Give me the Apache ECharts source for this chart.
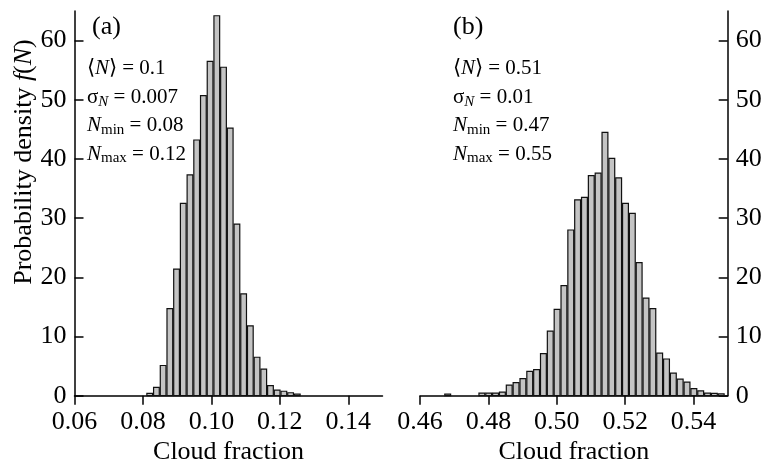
<!DOCTYPE html>
<html>
<head>
<meta charset="utf-8">
<script src="https://cdn.jsdelivr.net/npm/echarts@6/dist/echarts.min.js"></script>
<style>
  html, body { margin: 0; padding: 0; background: #fff; }
  #chart { width: 762px; height: 464px; }
</style>
</head>
<body>
<div id="chart"></div>
<script>
// Panel (a): cloud-fraction histogram, bins of equal width starting at binStartA
const binStartA = 0.081;
const binWidthA = 0.00196;
const densityA = [0.4, 1.4, 5.1, 14.7, 21.4, 32.5, 37.3, 43.2, 50.7, 56.5, 64.2, 55.5,
                  45.2, 29.0, 17.2, 11.8, 6.5, 4.5, 1.7, 0.95, 0.75, 0.5, 0.25];

// Panel (b)
const binStartB = 0.4671;
const binWidthB = 0.002;
const densityB = [0.25, 0, 0, 0, 0, 0.45, 0.45, 0.45, 0.6, 1.8, 2.2, 2.9, 4.1, 4.4, 7.1,
                  10.9, 14.6, 18.6, 28.0, 33.1, 33.5, 37.2, 37.6, 44.5, 40.1, 36.8, 32.5,
                  30.8, 22.5, 16.5, 14.7, 7.2, 6.2, 3.8, 2.8, 2.3, 1.2, 0.8, 0.45, 0.4, 0.3];

// Axis ticks
const xTicksA = [0.06, 0.08, 0.10, 0.12, 0.14];
const xTicksB = [0.46, 0.48, 0.50, 0.52, 0.54];
const yTicks = [0, 10, 20, 30, 40, 50, 60];

// Summary statistics printed in each panel
const panelTags = ['(a)', '(b)'];
const statsA = { mean: '0.1', sigma: '0.007', min: '0.08', max: '0.12' };
const statsB = { mean: '0.51', sigma: '0.01', min: '0.47', max: '0.55' };

const SERIF = 'Liberation Serif, Times New Roman, serif';

function histRows(start, width, values) {
  return values.map((v, i) => [start + i * width, start + (i + 1) * width, v]);
}

function renderBar(params, api) {
  const v = api.value(2);
  if (!v) return null;
  const topLeft = api.coord([api.value(0), v]);
  const baseRight = api.coord([api.value(1), 0]);
  return {
    type: 'rect',
    shape: {
      x: topLeft[0] + 0.5,
      y: topLeft[1],
      width: baseRight[0] - topLeft[0] - 1,
      height: baseRight[1] - topLeft[1]
    },
    style: { fill: '#c4c4c4', stroke: '#111', lineWidth: 1.2 }
  };
}

const lineStyle = { color: '#000', width: 1.5 };
const labelFont = { fontFamily: SERIF, fontSize: 26, color: '#000' };

function xAxisFor(grid, min, max, ticks) {
  return {
    gridIndex: grid, type: 'value', min: min, max: max, interval: 0.02,
    axisLine: { show: true, lineStyle: lineStyle },
    axisTick: { show: true, customValues: ticks, length: 9, inside: false, lineStyle: lineStyle },
    axisLabel: Object.assign({ customValues: ticks, margin: 13,
      formatter: v => v.toFixed(2) }, labelFont),
    splitLine: { show: false },
    name: 'Cloud fraction', nameLocation: 'middle', nameGap: 37,
    nameTextStyle: { fontFamily: SERIF, fontSize: 26, color: '#000' }
  };
}

function yAxisFor(grid, pos) {
  return {
    gridIndex: grid, type: 'value', min: 0, max: 65, interval: 10, position: pos,
    axisLine: { show: true, lineStyle: lineStyle },
    axisTick: { show: true, customValues: yTicks, length: 9, inside: true, lineStyle: lineStyle },
    axisLabel: Object.assign({ customValues: yTicks, margin: 8 }, labelFont),
    splitLine: { show: false }
  };
}

const rich = {
  i:  { fontFamily: SERIF, fontSize: 21, fontStyle: 'italic', lineHeight: 28.7 },
  s:  { fontFamily: SERIF, fontSize: 15, lineHeight: 20.7, padding: [8, 0, 0, 0] },
  si: { fontFamily: SERIF, fontSize: 15, fontStyle: 'italic', lineHeight: 18.7, padding: [10, 0, 0, 0] }
};

function statText(s) {
  return [
    '⟨{i|N}⟩ = ' + s.mean,
    'σ{si|N} = ' + s.sigma,
    '{i|N}{s|min} = ' + s.min,
    '{i|N}{s|max} = ' + s.max
  ].join('\n');
}

function statBlock(x, s) {
  return {
    type: 'text', x: x, y: 54,
    style: {
      text: statText(s), rich: rich,
      fontFamily: SERIF, fontSize: 21, lineHeight: 28.7, fill: '#000',
      align: 'left', verticalAlign: 'top'
    }
  };
}

function tag(x, text) {
  return {
    type: 'text', x: x, y: 27,
    style: { text: text, fontFamily: SERIF, fontSize: 26, fill: '#000',
             align: 'left', verticalAlign: 'middle' }
  };
}

const chart = echarts.init(document.getElementById('chart'), null, { renderer: 'canvas' });
chart.setOption({
  backgroundColor: '#fff',
  animation: false,
  grid: [
    { left: 74.5, top: 11, width: 308, height: 384.7, outerBoundsMode: 'none', containLabel: false },
    { left: 420, top: 11, width: 307.7, height: 384.7, outerBoundsMode: 'none', containLabel: false }
  ],
  xAxis: [xAxisFor(0, 0.06, 0.15, xTicksA), xAxisFor(1, 0.46, 0.55, xTicksB)],
  yAxis: [yAxisFor(0, 'left'), yAxisFor(1, 'right')],
  series: [
    { type: 'custom', xAxisIndex: 0, yAxisIndex: 0, renderItem: renderBar,
      encode: { x: [0, 1], y: 2 }, data: histRows(binStartA, binWidthA, densityA) },
    { type: 'custom', xAxisIndex: 1, yAxisIndex: 1, renderItem: renderBar,
      encode: { x: [0, 1], y: 2 }, data: histRows(binStartB, binWidthB, densityB) }
  ],
  graphic: [
    {
      type: 'text', x: 24, y: 162, rotation: Math.PI / 2,
      style: {
        text: 'Probability density {i|f}({i|N})',
        rich: { i: { fontFamily: SERIF, fontSize: 26, fontStyle: 'italic' } },
        fontFamily: SERIF, fontSize: 26, fill: '#000',
        align: 'center', verticalAlign: 'middle'
      }
    },
    tag(92, panelTags[0]),
    tag(453, panelTags[1]),
    statBlock(87, statsA),
    statBlock(453, statsB)
  ]
});
</script>
</body>
</html>
